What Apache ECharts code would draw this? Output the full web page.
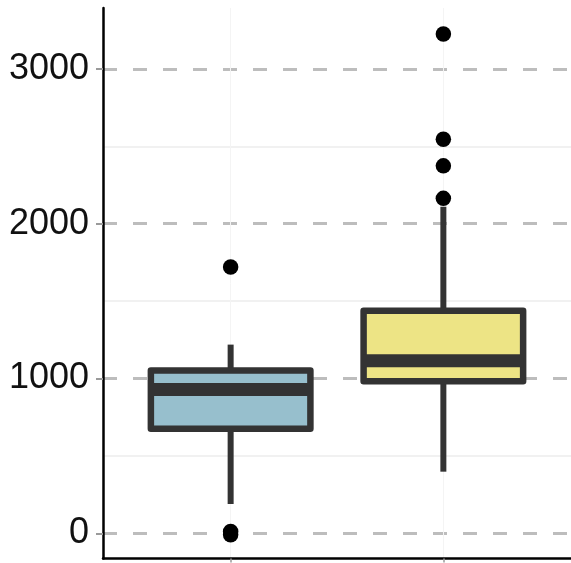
<!DOCTYPE html>
<html>
<head>
<meta charset="utf-8">
<script src="https://cdn.jsdelivr.net/npm/echarts@6/dist/echarts.min.js"></script>
<style>
html,body{margin:0;padding:0;background:#fff;}
#chart{width:571px;height:563px;}
</style>
</head>
<body>
<div id="chart"></div>
<script>
// ---- data ----
var groupPositions = [1, 2];
var lowWhisker = [189, 398];
var q1 = [676, 982];
var median = [929, 1115];
var q3 = [1052, 1438];
var highWhisker = [1219, 2110];
var fillColors = ['#97BFCD', '#EDE485'];
var outliersGroup1 = [1721, 12, -10];
var outliersGroup2 = [3226, 2546, 2374, 2164];
var yTickValues = [0, 1000, 2000, 3000];
var yMinorValues = [500, 1500, 2500];

var boxData = groupPositions.map(function (p, i) {
  return [p, lowWhisker[i], q1[i], median[i], q3[i], highWhisker[i], i];
});
var outlierData = [];
outliersGroup1.forEach(function (v) { outlierData.push([groupPositions[0], v]); });
outliersGroup2.forEach(function (v) { outlierData.push([groupPositions[1], v]); });

var BOX_HALF = 0.375;
var EDGE = '#333333';

function renderBox(params, api) {
  var x = api.value(0);
  var lo = api.coord([x, api.value(1)]);
  var b1 = api.coord([x, api.value(2)]);
  var md = api.coord([x, api.value(3)]);
  var b3 = api.coord([x, api.value(4)]);
  var hi = api.coord([x, api.value(5)]);
  var left = api.coord([x - BOX_HALF, api.value(3)]);
  var right = api.coord([x + BOX_HALF, api.value(3)]);
  var idx = api.value(6);
  return {
    type: 'group',
    children: [
      { type: 'line', shape: { x1: lo[0], y1: lo[1], x2: b1[0], y2: b1[1] },
        style: { stroke: EDGE, lineWidth: 6 } },
      { type: 'line', shape: { x1: b3[0], y1: b3[1], x2: hi[0], y2: hi[1] },
        style: { stroke: EDGE, lineWidth: 6 } },
      { type: 'rect', shape: { x: left[0], y: b3[1], width: right[0] - left[0], height: b1[1] - b3[1] },
        style: { fill: fillColors[idx], stroke: EDGE, lineWidth: 6.5, lineJoin: 'round' } },
      { type: 'line', shape: { x1: left[0], y1: md[1], x2: right[0], y2: md[1] },
        style: { stroke: EDGE, lineWidth: 13 } }
    ]
  };
}

var gridLines = [];
yTickValues.forEach(function (v) {
  gridLines.push({ yAxis: v, lineStyle: { color: '#bdbdbd', width: 3, type: [14, 16] } });
});
yMinorValues.forEach(function (v) {
  gridLines.push({ yAxis: v, lineStyle: { color: '#ececec', width: 1.5, type: 'solid' } });
});
groupPositions.forEach(function (v) {
  gridLines.push({ xAxis: v, lineStyle: { color: '#f4f4f4', width: 1, type: 'solid' } });
});

var chart = echarts.init(document.getElementById('chart'), null, { renderer: 'canvas' });
chart.setOption({
  animation: false,
  backgroundColor: '#ffffff',
  grid: { left: 103, top: 8, width: 469, height: 550.5, containLabel: false },
  xAxis: {
    type: 'value', min: 0.4, max: 2.6, z: 10,
    axisLine: { show: true, onZero: false, lineStyle: { color: '#000', width: 2.5 } },
    axisTick: { show: true, customValues: groupPositions, length: 4, lineStyle: { color: '#9a9a9a', width: 1.5 } },
    axisLabel: { show: false },
    splitLine: { show: false }
  },
  yAxis: {
    type: 'value', min: -163, max: 3394, z: 10,
    axisLine: { show: true, onZero: false, lineStyle: { color: '#000', width: 2.5 } },
    axisTick: { show: true, customValues: yTickValues, length: 7, lineStyle: { color: '#9a9a9a', width: 2 } },
    axisLabel: { show: true, customValues: yTickValues, margin: 14, color: '#111',
      fontSize: 36, fontFamily: 'Liberation Sans, Arial, sans-serif',
      formatter: function (v) { return String(v); } },
    splitLine: { show: false }
  },
  series: [
    {
      type: 'line', data: [], z: 1, silent: true,
      markLine: { z: 1, silent: true, symbol: 'none', label: { show: false }, animation: false, data: gridLines }
    },
    {
      type: 'custom', z: 3, renderItem: renderBox, data: boxData,
      encode: { x: 0, y: [1, 2, 3, 4, 5] }, silent: true
    },
    {
      type: 'scatter', z: 4, symbol: 'circle', symbolSize: 15.5, data: outlierData,
      itemStyle: { color: '#000', opacity: 1 }, silent: true
    }
  ]
});
</script>
</body>
</html>
